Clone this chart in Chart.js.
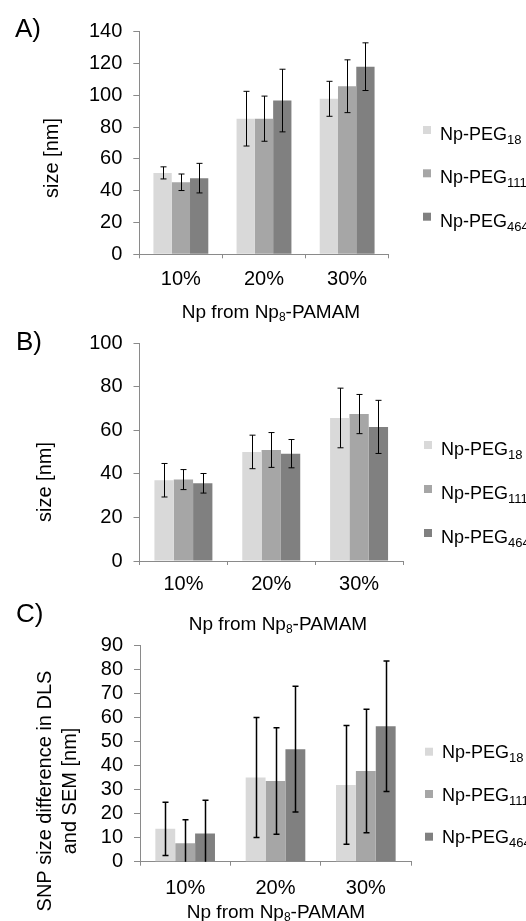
<!DOCTYPE html>
<html>
<head>
<meta charset="utf-8">
<script src="https://cdn.jsdelivr.net/npm/chart.js@4.4.1/dist/chart.umd.min.js"></script>
<style>
  html, body { margin: 0; padding: 0; background: #fff; }
  body { width: 526px; height: 921px; position: relative; overflow: hidden; }
  canvas { position: absolute; left: 0; top: 0; }
</style>
</head>
<body>
<canvas id="chartA" width="526" height="921"></canvas>
<canvas id="chartB" width="526" height="921"></canvas>
<canvas id="chartC" width="526" height="921"></canvas>
<script>
const categories = ['10%', '20%', '30%'];
const legendBase = 'Np-PEG';
const legendSubs = ['18', '111', '464'];
const colors = ['#d9d9d9', '#a6a6a6', '#808080'];

// A) size [nm]
const sizeA18 = [51.2, 85.3, 97.8];
const sizeA111 = [45.3, 85.3, 105.7];
const sizeA464 = [47.9, 96.7, 118.0];
const errA18 = [3.8, 17.2, 11.0];
const errA111 = [5.2, 14.2, 16.6];
const errA464 = [9.3, 19.7, 15.0];
const ticksA = [0, 20, 40, 60, 80, 100, 120, 140];

// B) size [nm]
const sizeB18 = [37.1, 50.1, 65.7];
const sizeB111 = [37.4, 51.0, 67.5];
const sizeB464 = [35.7, 49.3, 61.6];
const errB18 = [7.7, 7.7, 13.7];
const errB111 = [4.6, 8.0, 9.0];
const errB464 = [4.5, 6.5, 12.2];
const ticksB = [0, 20, 40, 60, 80, 100];

// C) SNP size difference in DLS and SEM [nm]
const sizeC18 = [13.7, 35.1, 32.0];
const sizeC111 = [7.7, 33.6, 37.8];
const sizeC464 = [11.8, 46.9, 56.4];
const errC18 = [11.1, 25.0, 24.7];
const errC111 = [9.8, 22.2, 25.7];
const errC464 = [13.8, 26.2, 27.2];
const ticksC = [0, 10, 20, 30, 40, 50, 60, 70, 80, 90];

const FONT = "'Liberation Sans', Arial, sans-serif";
const AXIS_GRAY = '#8a8a8a';
Chart.defaults.font.family = FONT;
Chart.defaults.color = '#000';

function drawRich(ctx, runs, x, y, align, size, subSize, subDrop) {
  const fontOf = sub => (sub ? subSize : size) + 'px ' + FONT;
  let total = 0;
  runs.forEach(([t, sub]) => { ctx.font = fontOf(sub); total += ctx.measureText(t).width; });
  let cx = align === 'center' ? x - total / 2 : x;
  ctx.textAlign = 'left';
  ctx.textBaseline = 'alphabetic';
  runs.forEach(([t, sub]) => {
    ctx.font = fontOf(sub);
    ctx.fillText(t, cx, sub ? y + subDrop : y);
    cx += ctx.measureText(t).width;
  });
}

const errorBars = {
  id: 'errorBars',
  afterDatasetsDraw(chart, args, opts) {
    const ctx = chart.ctx;
    const y = chart.scales.y;
    ctx.save();
    ctx.strokeStyle = '#000';
    ctx.lineWidth = opts.width || 1;
    chart.data.datasets.forEach((ds, i) => {
      chart.getDatasetMeta(i).data.forEach((bar, j) => {
        const v = ds.data[j], e = ds.errors[j];
        const top = y.getPixelForValue(v + e);
        const bottom = y.getPixelForValue(Math.max(v - e, 0));
        const x = Math.round(bar.x) + 0.5;
        ctx.beginPath();
        ctx.moveTo(x, top); ctx.lineTo(x, bottom);
        ctx.moveTo(x - 3, top); ctx.lineTo(x + 3, top);
        if (v - e > 0) { ctx.moveTo(x - 3, bottom); ctx.lineTo(x + 3, bottom); }
        ctx.stroke();
      });
    });
    ctx.restore();
  }
};

const panelText = {
  id: 'panelText',
  afterDraw(chart, args, o) {
    const ctx = chart.ctx;
    ctx.save();
    ctx.fillStyle = '#000';
    // panel letter
    ctx.font = '26px ' + FONT;
    ctx.textAlign = 'left';
    ctx.textBaseline = 'alphabetic';
    ctx.fillText(o.letter[0], o.letter[1], o.letter[2]);
    // y title (rotated)
    ctx.font = '20px ' + FONT;
    o.yTitle.forEach(([t, x, y]) => {
      ctx.save();
      ctx.translate(x, y);
      ctx.rotate(-Math.PI / 2);
      ctx.textAlign = 'center';
      ctx.textBaseline = 'middle';
      ctx.fillText(t, 0, 0);
      ctx.restore();
    });
    // x title
    drawRich(ctx, [['Np from Np', false], ['8', true], ['-PAMAM', false]],
      o.xTitle[0], o.xTitle[1], 'center', 19, 12, 3);
    // legend
    chart.data.datasets.forEach((ds, i) => {
      ctx.fillStyle = ds.backgroundColor;
      ctx.fillRect(o.legend.sqX, o.legend.tops[i], 8, 8);
      ctx.fillStyle = '#000';
      drawRich(ctx, [[legendBase, false], [legendSubs[i], true]],
        o.legend.textX, o.legend.base[i], 'left', 18, 13, 4);
    });
    ctx.restore();
  }
};

function makeChart(id, series, errs, ticks, area, xPad, text, errWidth) {
  const yWidth = 60, xHeight = 40;
  new Chart(document.getElementById(id), {
    type: 'bar',
    data: {
      labels: categories,
      datasets: series.map((s, i) => ({
        label: legendBase + legendSubs[i],
        data: s,
        errors: errs[i],
        backgroundColor: colors[i],
        borderWidth: 0,
        categoryPercentage: 0.66,
        barPercentage: 1.0
      }))
    },
    options: {
      responsive: false,
      animation: false,
      layout: {
        padding: {
          left: area.left - yWidth,
          right: 526 - area.right,
          top: area.top,
          bottom: 921 - area.bottom - xHeight
        }
      },
      plugins: {
        legend: { display: false },
        tooltip: { enabled: false },
        errorBars: { width: errWidth },
        panelText: text
      },
      scales: {
        x: {
          afterFit: s => { s.height = xHeight; },
          grid: { drawOnChartArea: false, drawTicks: true, tickLength: 4, color: AXIS_GRAY, offset: true },
          border: { display: true, color: AXIS_GRAY },
          ticks: { font: { size: 20 }, color: '#000', padding: xPad, maxRotation: 0 }
        },
        y: {
          min: 0,
          max: ticks[ticks.length - 1],
          afterFit: s => { s.width = yWidth; },
          afterBuildTicks: s => { s.ticks = ticks.map(v => ({ value: v })); },
          grid: { drawOnChartArea: false, drawTicks: true, tickLength: 6, color: AXIS_GRAY },
          border: { display: true, color: AXIS_GRAY },
          ticks: { font: { size: 20 }, color: '#000', padding: 11, autoSkip: false }
        }
      }
    },
    plugins: [errorBars, panelText]
  });
}

makeChart('chartA', [sizeA18, sizeA111, sizeA464], [errA18, errA111, errA464], ticksA,
  { left: 139.3, top: 31.7, right: 388.7, bottom: 254.3 }, 9,
  {
    letter: ['A)', 15, 37],
    yTitle: [['size [nm]', 52, 158]],
    xTitle: [271, 318.3],
    legend: { sqX: 423, textX: 440, tops: [126, 169.3, 212.7], base: [140, 183.3, 226.7] }
  }, 1);

makeChart('chartB', [sizeB18, sizeB111, sizeB464], [errB18, errB111, errB464], ticksB,
  { left: 139.5, top: 343.3, right: 403, bottom: 561 }, 7,
  {
    letter: ['B)', 16, 349.5],
    yTitle: [['size [nm]', 45, 482]],
    xTitle: [278, 630],
    legend: { sqX: 424, textX: 441, tops: [441, 485, 529], base: [455, 499, 543] }
  }, 1);

makeChart('chartC', [sizeC18, sizeC111, sizeC464], [errC18, errC111, errC464], ticksC,
  { left: 140, top: 645.7, right: 411, bottom: 861.7 }, 10.5,
  {
    letter: ['C)', 16, 622],
    yTitle: [['SNP size difference in DLS', 45, 791], ['and SEM [nm]', 70, 791]],
    xTitle: [276, 918.3],
    legend: { sqX: 425, textX: 442, tops: [747.7, 790, 832.7], base: [758.3, 800.6, 843.3] }
  }, 1.5);
</script>
</body>
</html>
